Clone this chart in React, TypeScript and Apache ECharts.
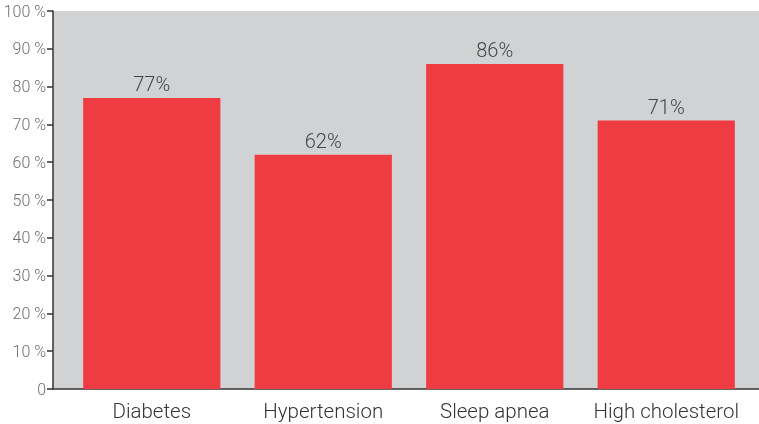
import React, { useEffect, useRef } from "react";
import * as echarts from "echarts";

const categories = ["Diabetes", "Hypertension", "Sleep apnea", "High cholesterol"];
const values = [77, 62, 86, 71];

export default function App() {
  const ref = useRef<HTMLDivElement>(null);
  useEffect(() => {
    const chart = echarts.init(ref.current!, null, { renderer: "svg" });
    const font = "Roboto";
    chart.setOption({
      animation: false,
      grid: [
        {
          left: 53,
          right: 0,
          top: 11,
          bottom: 35,
          show: true,
          backgroundColor: "#D1D2D4",
          borderWidth: 0,
        },
        { left: 66, right: 7, top: 11, bottom: 35 },
      ],
      xAxis: [
        {
          gridIndex: 0,
          type: "category",
          data: categories,
          axisLine: { show: true, lineStyle: { color: "#333333", width: 1.5 } },
          axisTick: { show: false },
          axisLabel: { show: false },
        },
        {
          gridIndex: 1,
          type: "category",
          data: categories,
          axisLine: { show: false },
          axisTick: { show: false },
          axisLabel: {
            interval: 0,
            color: "#333333",
            fontSize: 20.5,
            fontFamily: font,
            fontWeight: 300,
            margin: 11,
          },
        },
      ],
      yAxis: [
        {
          gridIndex: 0,
          type: "value",
          min: 0,
          max: 100,
          interval: 10,
          splitLine: { show: false },
          axisLine: { show: true, lineStyle: { color: "#333333", width: 1.5 } },
          axisTick: { show: true, length: 6, lineStyle: { color: "#333333", width: 1.5 } },
          axisLabel: {
            color: "#6D6E71",
            fontSize: 16,
            fontFamily: font,
            fontWeight: 300,
            margin: 7,
            formatter: (v: number) => (v === 0 ? "0" : v + " %"),
          },
        },
        {
          gridIndex: 1,
          type: "value",
          min: 0,
          max: 100,
          interval: 10,
          show: false,
        },
      ],
      series: [
        {
          type: "bar",
          xAxisIndex: 1,
          yAxisIndex: 1,
          data: values,
          barWidth: "80%",
          itemStyle: { color: "#EF3B42" },
          label: {
            show: true,
            position: "top",
            distance: 4,
            formatter: "{c}%",
            color: "#444444",
            fontSize: 20,
            fontFamily: font,
            fontWeight: 300,
          },
        },
      ],
    });
    return () => chart.dispose();
  }, []);
  return (
    <div
      ref={ref}
      style={{ position: "fixed", left: 0, top: 0, width: 759, height: 424 }}
    />
  );
}
